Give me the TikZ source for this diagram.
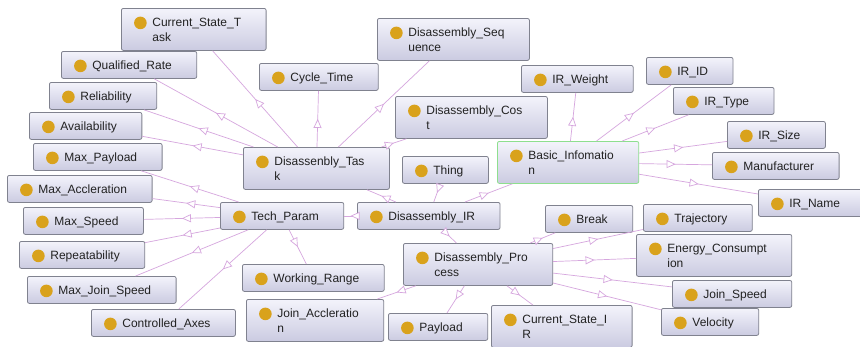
\documentclass[tikz,border=0pt]{standalone}
\usepackage{fontspec}
\setmainfont{Liberation Sans}
\usetikzlibrary{arrows.meta,decorations.markings}
\definecolor{OntoFillTop}{HTML}{F3F3FB}
\definecolor{OntoFillBottom}{HTML}{CBCBE1}
\definecolor{OntoBorder}{HTML}{80828F}
\definecolor{OntoGold}{HTML}{D9A21C}
\definecolor{OntoLink}{HTML}{D6A6DE}
\definecolor{OntoGreen}{HTML}{8EDF8E}
\definecolor{OntoText}{HTML}{222222}
\newcommand{\ontolabel}[1]{\hspace*{6pt}\raisebox{-2pt}[\height][\depth]{\begin{tabular}{@{}l@{}}#1\end{tabular}}}

\begin{document}
\begin{tikzpicture}[x=1pt,y=-1pt,font=\fontsize{12}{15}\selectfont]
    \tikzset{ontoclass/.style={anchor=north west,rounded corners=2pt,draw=OntoBorder,line width=0.8pt,
      top color=OntoFillTop,bottom color=OntoFillBottom,text=OntoText,inner xsep=25pt,inner ysep=6pt,
      path picture={\fill[OntoGold] ([xshift=19pt,yshift=-14.5pt]path picture bounding box.north west) circle (6.3pt);}},
      isa/.style={draw=OntoLink,line width=0.7pt,postaction={decorate},
      decoration={markings,mark=at position 0.5 with {\arrow[OntoLink,line width=0.7pt]{Triangle[length=9pt,width=8pt,fill=white]}}}}}
    \useasboundingbox[fill=white] (0,0) rectangle (860,346);
    \node[ontoclass] (cst) at (121,8) {\ontolabel{Current\_State\_T\\ask}};
    \node[ontoclass] (qr) at (61,51) {\ontolabel{Qualified\_Rate}};
    \node[ontoclass] (rel) at (49,82) {\ontolabel{Reliability}};
    \node[ontoclass] (avail) at (29,112) {\ontolabel{Availability}};
    \node[ontoclass] (mpay) at (33,143) {\ontolabel{Max\_Payload}};
    \node[ontoclass] (macc) at (7,175) {\ontolabel{Max\_Accleration}};
    \node[ontoclass] (mspd) at (23,207) {\ontolabel{Max\_Speed}};
    \node[ontoclass] (rep) at (19,241) {\ontolabel{Repeatability}};
    \node[ontoclass] (mjs) at (27,276) {\ontolabel{Max\_Join\_Speed}};
    \node[ontoclass] (axes) at (91,309) {\ontolabel{Controlled\_Axes}};
    \node[ontoclass] (cyc) at (259,63) {\ontolabel{Cycle\_Time}};
    \node[ontoclass] (seq) at (377,18) {\ontolabel{Disassembly\_Seq\\uence}};
    \node[ontoclass] (cost) at (395,96) {\ontolabel{Disassembly\_Cos\\t}};
    \node[ontoclass] (task) at (243,147) {\ontolabel{Disassenbly\_Tas\\k}};
    \node[ontoclass] (thing) at (402,156) {\ontolabel{Thing}};
    \node[ontoclass,draw=OntoGreen] (bi) at (497,141) {\ontolabel{Basic\_Infomatio\\n}};
    \node[ontoclass] (irw) at (521,65) {\ontolabel{IR\_Weight}};
    \node[ontoclass] (irid) at (646,57) {\ontolabel{IR\_ID}};
    \node[ontoclass] (irt) at (673,87) {\ontolabel{IR\_Type}};
    \node[ontoclass] (irs) at (727,121) {\ontolabel{IR\_Size}};
    \node[ontoclass] (man) at (712,152) {\ontolabel{Manufacturer}};
    \node[ontoclass] (irn) at (758,189) {\ontolabel{IR\_Name}};
    \node[ontoclass] (tp) at (220,202) {\ontolabel{Tech\_Param}};
    \node[ontoclass] (dir) at (357,202) {\ontolabel{Disassembly\_IR}};
    \node[ontoclass] (brk) at (545,205) {\ontolabel{Break}};
    \node[ontoclass] (traj) at (643,204) {\ontolabel{Trajectory}};
    \node[ontoclass] (ec) at (636,234) {\ontolabel{Energy\_Consumpt\\ion}};
    \node[ontoclass] (js) at (672,280) {\ontolabel{Join\_Speed}};
    \node[ontoclass] (vel) at (661,308) {\ontolabel{Velocity}};
    \node[ontoclass] (dp) at (403,243) {\ontolabel{Disassembly\_Pro\\cess}};
    \node[ontoclass] (wr) at (242,264) {\ontolabel{Working\_Range}};
    \node[ontoclass] (ja) at (246,299) {\ontolabel{Join\_Accleratio\\n}};
    \node[ontoclass] (pay) at (388,313) {\ontolabel{Payload}};
    \node[ontoclass] (csir) at (491,305) {\ontolabel{Current\_State\_I\\R}};
    \draw[isa] (task)--(cst);
    \draw[isa] (task)--(qr);
    \draw[isa] (task)--(rel);
    \draw[isa] (task)--(avail);
    \draw[isa] (task)--(cyc);
    \draw[isa] ([xshift=22pt]task.north)--([xshift=-24pt]seq.south);
    \draw[isa] (task)--(cost);
    \draw[isa] (tp)--(mpay);
    \draw[isa] (tp)--(macc);
    \draw[isa] (tp)--(mspd);
    \draw[isa] (tp)--(rep);
    \draw[isa] (tp)--(mjs);
    \draw[isa] (tp)--(axes);
    \draw[isa] (tp)--(wr);
    \draw[isa] (thing)--(dir);
    \draw[isa] (dir)--(task);
    \draw[isa] (dir)--(tp);
    \draw[isa] (dir)--(bi);
    \draw[isa] (dir)--(dp);
    \draw[isa] (bi)--(irw);
    \draw[isa] (bi)--(irid);
    \draw[isa] (bi)--(irt);
    \draw[isa] (bi)--(irs);
    \draw[isa] (bi)--(man);
    \draw[isa] (bi)--(irn);
    \draw[isa] (dp)--(brk);
    \draw[isa] (dp)--(traj);
    \draw[isa] (dp)--(ec);
    \draw[isa] (dp)--(js);
    \draw[isa] (dp)--(vel);
    \draw[isa] (dp)--(csir);
    \draw[isa] (dp)--(pay);
    \draw[isa] (dp)--(ja);
  \end{tikzpicture}
\end{document}
